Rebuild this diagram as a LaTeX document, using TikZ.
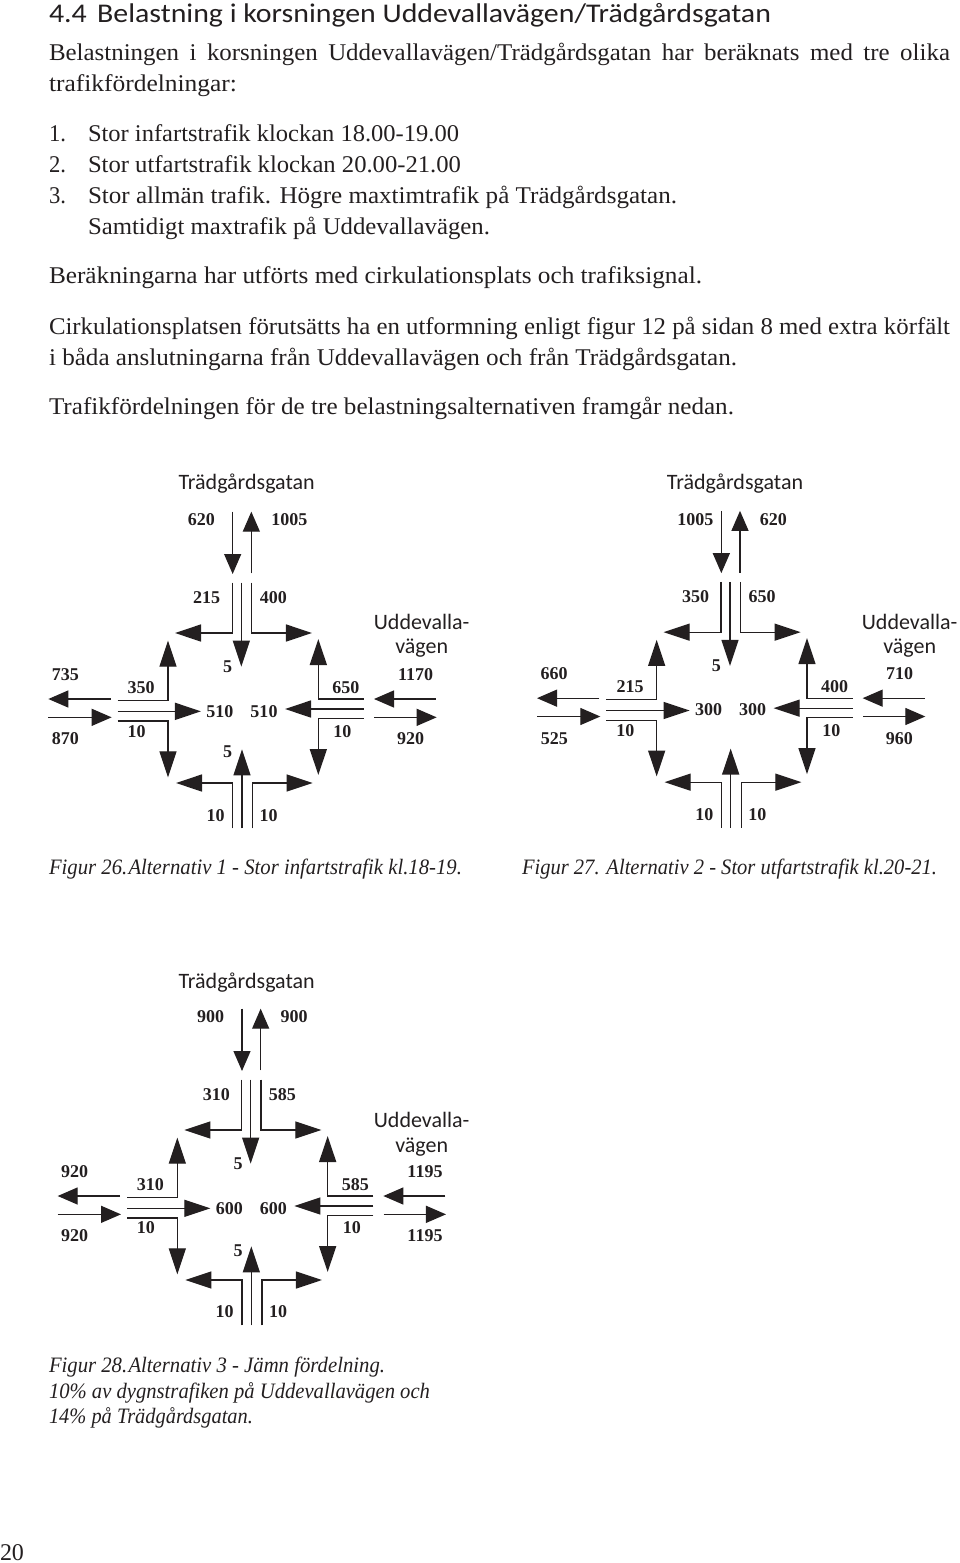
\documentclass[tikz,border=0pt]{standalone}
\usepackage{fontspec}
\usepackage{graphicx}
\usetikzlibrary{arrows.meta}
\setmainfont{Liberation Serif}
\newfontfamily\roadf{Carlito}
\definecolor{ink}{HTML}{231F20}
\newsavebox\tlbox
\newcounter{labn}
\newcommand\tl[6]{%
  \node[txt] (#1) at (#2,#3) {\sbox\tlbox{#5#6}\pgfmathsetmacro\tlr{(#4-#2)/\the\wd\tlbox}\scalebox{\tlr}[1]{\usebox\tlbox}};}
\newcommand\lab[3]{\stepcounter{labn}\node[num] (n\thelabn) at (#1,#2) {#3};}
\newcommand\road[3]{\stepcounter{labn}\node[roadname] (n\thelabn) at (#1,#2) {#3};}
\newcommand\roads{%
  % north
  \draw[lane,shorthead] (578,155) -- (578,342);
  \draw[lane,shorthead] (634,340) -- (634,155);
  \draw[lane,longhead] (577,368) -- (577,519) -- (405,519);
  \draw[lane,longhead] (604,368) -- (604,620);
  \draw[lane,longhead] (635,368) -- (635,519) -- (816,519);
  % west
  \draw[lane,shorthead] (212,717) -- (25,717);
  \draw[lane,shorthead] (25,772) -- (215,772);
  \draw[lane,longhead] (233,722) -- (384,722) -- (384,542);
  \draw[lane,longhead] (233,754) -- (483,754);
  \draw[lane,longhead] (233,783) -- (384,783) -- (384,952);
  % east
  \draw[lane,shorthead] (1188,717) -- (1002,717);
  \draw[lane,shorthead] (1003,772) -- (1190,772);
  \draw[lane,longhead] (972,717) -- (835,717) -- (835,537);
  \draw[lane,longhead] (972,747) -- (735,747);
  \draw[lane,longhead] (972,775) -- (835,775) -- (835,945);
  % south
  \draw[lane,longhead] (578,1105) -- (578,969) -- (408,969);
  \draw[lane,longhead] (606,1105) -- (606,868);
  \draw[lane,longhead] (638,1105) -- (638,969) -- (818,969);
}
\tikzset{
  txt/.style={anchor=base west,inner sep=0pt,outer sep=0pt,text=ink},
  num/.style={inner sep=0pt,outer sep=0pt,text=ink,font=\fontsize{18}{20}\selectfont\bfseries},
  roadname/.style={inner sep=0pt,outer sep=0pt,text=ink,yshift=-1pt,font=\fontsize{22}{24}\selectfont\roadf},
  lane/.style={line width=1.3pt,draw=ink,line join=miter},
  shorthead/.style={-{Triangle[length=20pt,width=17pt,fill=ink]}},
  longhead/.style={-{Triangle[length=26pt,width=17pt,fill=ink]}},
  zoomframe/.style={x=0.33333pt,y=-0.33333pt}
}
\newcommand\bodyf{\fontsize{24}{27}\selectfont}
\newcommand\capf{\fontsize{22}{25}\selectfont\itshape}
\begin{document}
\begin{tikzpicture}[x=1pt,y=-1pt]
\useasboundingbox (0,0) rectangle (960,1563);
% text
\tl{head}{49}{23}{771}{\fontsize{27}{30}\selectfont\roadf}{4.4\hspace{0.12em} Belastning i korsningen Uddevallavägen/Trädgårdsgatan}
\tl{p1a}{49}{61}{950}{\bodyf\spaceskip=0.42em}{Belastningen i korsningen Uddevallavägen/Trädgårdsgatan har beräknats med tre olika}
\tl{p1b}{49}{92}{237}{\bodyf}{trafikfördelningar:}
\tl{n1}{49}{141}{66}{\bodyf}{1.}
\tl{i1}{88}{141}{459}{\bodyf}{Stor infartstrafik klockan 18.00-19.00}
\tl{n2}{49}{172}{66}{\bodyf}{2.}
\tl{i2}{88}{172}{461}{\bodyf}{Stor utfartstrafik klockan 20.00-21.00}
\tl{n3}{49}{203}{66}{\bodyf}{3.}
\tl{i3}{88}{203}{677}{\bodyf}{Stor allmän trafik. Högre maxtimtrafik på Trädgårdsgatan.}
\tl{i3b}{88}{234}{490}{\bodyf}{Samtidigt maxtrafik på Uddevallavägen.}
\tl{p2}{49}{283}{702}{\bodyf}{Beräkningarna har utförts med cirkulationsplats och trafiksignal.}
\tl{p3a}{49}{334}{950}{\bodyf}{Cirkulationsplatsen förutsätts ha en utformning enligt figur 12 på sidan 8 med extra körfält}
\tl{p3b}{49}{365}{737}{\bodyf}{i båda anslutningarna från Uddevallavägen och från Trädgårdsgatan.}
\tl{p4}{49}{414}{734}{\bodyf}{Trafikfördelningen för de tre belastningsalternativen framgår nedan.}
\tl{f26}{49}{874}{462}{\capf}{Figur 26.\hspace{0.06em}Alternativ 1 - Stor infartstrafik kl.18-19.}
\tl{f27}{522}{874}{937}{\capf}{Figur 27. Alternativ 2 - Stor utfartstrafik kl.20-21.}
\tl{f28a}{49}{1372}{385}{\capf}{Figur 28.\hspace{0.06em}Alternativ 3 - Jämn fördelning.}
\tl{f28b}{49}{1398}{430}{\capf}{10\% av dygnstrafiken på Uddevallavägen och}
\tl{f28c}{49}{1423}{253}{\capf}{14\% på Trädgårdsgatan.}
\tl{page}{0}{1560}{24}{\bodyf}{20}
% diagram 1
\begin{scope}[shift={(40,460)},zoomframe]
\roads
\road{620}{67}{Trädgårdsgatan}\road{1145}{482}{Uddevalla-}\road{1145}{560}{vägen}
\lab{484}{180}{620}\lab{748}{180}{1005}\lab{500}{414}{215}\lab{700}{414}{400}
\lab{563}{620}{5}\lab{76}{645}{735}\lab{303}{684}{350}\lab{540}{754}{510}
\lab{672}{754}{510}\lab{918}{684}{650}\lab{1127}{645}{1170}\lab{76}{837}{870}
\lab{290}{814}{10}\lab{907}{814}{10}\lab{1112}{837}{920}\lab{563}{876}{5}
\lab{527}{1066}{10}\lab{686}{1066}{10}
\end{scope}
% diagram 2
\begin{scope}[shift={(520,460)},zoomframe]
\begin{scope}[shift={(26,-2.5)}]\roads\end{scope}
\road{645}{67}{Trädgårdsgatan}\road{1169}{482}{Uddevalla-}\road{1169}{560}{vägen}
\lab{526}{178}{1005}\lab{760}{178}{620}\lab{527}{411}{350}\lab{726}{411}{650}
\lab{589}{617}{5}\lab{102}{642}{660}\lab{330}{681}{215}\lab{566}{750}{300}
\lab{698}{750}{300}\lab{944}{681}{400}\lab{1139}{642}{710}\lab{103}{835}{525}
\lab{316}{811}{10}\lab{934}{811}{10}\lab{1138}{835}{960}
\lab{553}{1064}{10}\lab{712}{1064}{10}
\end{scope}
% diagram 3
\begin{scope}[shift={(40,960)},zoomframe]
\begin{scope}[shift={(28,-9)}]\roads\end{scope}
\road{620}{65}{Trädgårdsgatan}\road{1145}{478}{Uddevalla-}\road{1145}{557}{vägen}
\lab{512}{171}{900}\lab{762}{171}{900}\lab{529}{404}{310}\lab{727}{404}{585}
\lab{594}{610}{5}\lab{104}{635}{920}\lab{331}{675}{310}\lab{568}{745}{600}
\lab{700}{745}{600}\lab{946}{675}{585}\lab{1155}{635}{1195}\lab{104}{828}{920}
\lab{318}{804}{10}\lab{936}{804}{10}\lab{1155}{828}{1195}\lab{594}{873}{5}
\lab{554}{1056}{10}\lab{714}{1056}{10}
\end{scope}
\end{tikzpicture}
\end{document}
